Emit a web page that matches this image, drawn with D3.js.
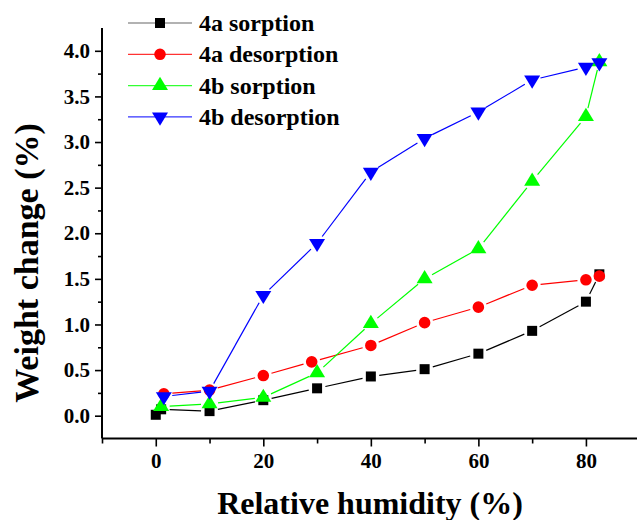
<!DOCTYPE html>
<html>
<head>
<meta charset="utf-8">
<script src="https://cdn.jsdelivr.net/npm/d3@7"></script>
<style>
  body { margin: 0; background: #fff; }
  text { font-family: "Liberation Serif", "Times New Roman", serif; font-weight: bold; }
</style>
</head>
<body>
<svg width="638" height="520"></svg>
<script>
// relative humidity (%) and weight change (%)
const rh4aSorp = [0, 1, 10, 20, 30, 40, 50, 60, 70, 80, 82.5];
const wc4aSorp = [0.01, 0.07, 0.05, 0.17, 0.30, 0.43, 0.51, 0.68, 0.93, 1.25, 1.55];
const rh4aDes = [1.5, 10, 20, 29, 40, 50, 60, 70, 80, 82.5];
const wc4aDes = [0.24, 0.28, 0.44, 0.59, 0.77, 1.02, 1.19, 1.43, 1.49, 1.53];
const rh4bSorp = [1, 10, 20, 30, 40, 50, 60, 70, 80, 82.5];
const wc4bSorp = [0.10, 0.13, 0.20, 0.47, 1.01, 1.50, 1.83, 2.57, 3.28, 3.88];
const rh4bDes = [1.5, 10, 20, 30, 40, 50, 60, 70, 80, 82.5];
const wc4bDes = [0.21, 0.27, 1.32, 1.89, 2.67, 3.04, 3.33, 3.68, 3.82, 3.87];

const seriesNames = ["4a sorption", "4a desorption", "4b sorption", "4b desorption"];
const xTicks = [0, 20, 40, 60, 80];
const yTicks = [0, 0.5, 1, 1.5, 2, 2.5, 3, 3.5, 4];

const series = [
  { name: seriesNames[0], x: rh4aSorp, y: wc4aSorp, color: "#000000", shape: "square" },
  { name: seriesNames[1], x: rh4aDes, y: wc4aDes, color: "#ff0000", shape: "circle" },
  { name: seriesNames[2], x: rh4bSorp, y: wc4bSorp, color: "#00ff00", shape: "up" },
  { name: seriesNames[3], x: rh4bDes, y: wc4bDes, color: "#0000ff", shape: "down" }
];

const svg = d3.select("svg");
const xScale = d3.scaleLinear().domain([-10, 89.5]).range([102, 637]);
const yScale = d3.scaleLinear().domain([-0.25, 4.25]).range([438.5, 28]);

function markerPath(shape) {
  if (shape == "square") return "M-5,-5H5V5H-5Z";
  if (shape == "circle") return "M-5.8,0A5.8,5.8 0 1,0 5.8,0A5.8,5.8 0 1,0 -5.8,0Z";
  if (shape == "up") return "M0,-8.8L8,4.4L-8,4.4Z";
  return "M0,8.8L8,-4.4L-8,-4.4Z";
}

// axes
const xAxis = d3.axisBottom(xScale).tickValues(xTicks).tickSize(8).tickPadding(7).tickFormat(d3.format("d"));
const xMinor = d3.axisBottom(xScale).tickValues([-10, 10, 30, 50, 70]).tickSize(5).tickFormat("");
const yAxis = d3.axisLeft(yScale).tickValues(yTicks).tickSize(7).tickPadding(5).tickFormat(d3.format(".1f"));
const yMinor = d3.axisLeft(yScale).tickValues(d3.range(0.25, 4.2, 0.5)).tickSize(4).tickFormat("");

function styleAxis(g) {
  g.attr("font-family", null);
  g.select(".domain").attr("stroke-width", 2).attr("stroke", "#000");
  g.selectAll(".tick line").attr("stroke-width", 1.6).attr("stroke", "#000");
  g.selectAll(".tick text").style("font-size", "21px").attr("fill", "#000");
}

svg.append("g").attr("transform", "translate(0,438.5)").call(xMinor).call(styleAxis).select(".domain").remove();
svg.append("g").attr("transform", "translate(0,438.5)").call(xAxis).call(styleAxis)
  .select(".domain").attr("d", "M102,0H637");
svg.append("g").attr("transform", "translate(102,0)").call(yMinor).call(styleAxis).select(".domain").remove();
svg.append("g").attr("transform", "translate(102,0)").call(yAxis).call(styleAxis)
  .select(".domain").attr("d", "M0,438.5V28");

svg.append("text")
  .attr("x", 370).attr("y", 514)
  .attr("text-anchor", "middle")
  .style("font-size", "32px")
  .text("Relative humidity (%)");

svg.append("text")
  .attr("transform", "translate(38,263) rotate(-90)")
  .attr("text-anchor", "middle")
  .style("font-size", "34px")
  .text("Weight change (%)");

// lines with gaps around markers, then markers
const gap = 8.5;
series.forEach(function(s) {
  const pts = s.x.map((v, i) => [xScale(v), yScale(s.y[i])]);
  const g = svg.append("g");
  for (let i = 0; i < pts.length - 1; i++) {
    const [x1, y1] = pts[i], [x2, y2] = pts[i + 1];
    const len = Math.hypot(x2 - x1, y2 - y1);
    if (len <= gap * 2 + 1) continue;
    const ux = (x2 - x1) / len, uy = (y2 - y1) / len;
    g.append("line")
      .attr("x1", x1 + ux * gap).attr("y1", y1 + uy * gap)
      .attr("x2", x2 - ux * gap).attr("y2", y2 - uy * gap)
      .attr("stroke", s.color).attr("stroke-width", 1.2);
  }
  g.selectAll("path.marker")
    .data(pts)
    .enter()
    .append("path")
    .attr("class", "marker")
    .attr("d", markerPath(s.shape))
    .attr("transform", d => "translate(" + d[0] + "," + d[1] + ")")
    .attr("fill", s.color);
});

// legend
const lg = svg.selectAll(".legendItem")
  .data(series)
  .enter()
  .append("g")
  .attr("class", "legendItem")
  .attr("transform", (d, i) => "translate(0," + (23 + i * 31.3) + ")");

lg.append("line")
  .attr("x1", 128).attr("x2", 192).attr("y1", 0).attr("y2", 0)
  .attr("stroke", d => d.color).attr("stroke-width", 1.2)
  .attr("stroke-opacity", d => d.color == "#000000" ? 0.6 : 0.8);
lg.append("path")
  .attr("d", d => markerPath(d.shape))
  .attr("transform", "translate(160,0)")
  .attr("fill", d => d.color);
lg.append("text")
  .attr("x", 199).attr("y", 8)
  .style("font-size", "24px")
  .text(d => d.name);
</script>
</body>
</html>
